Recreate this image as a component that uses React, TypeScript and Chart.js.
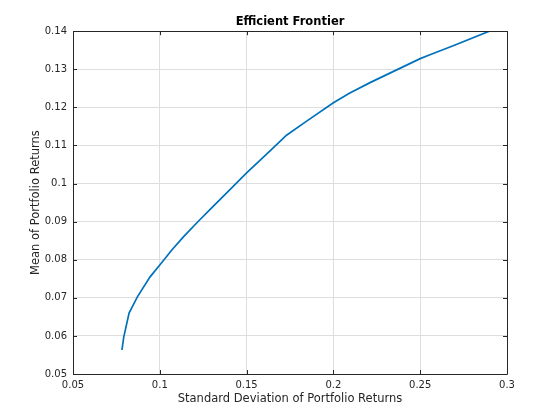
import React, { useEffect, useRef } from "react";
import { Chart, registerables } from "chart.js";
Chart.register(...registerables);

const stdDev = [0.0782, 0.0792, 0.0823, 0.0870, 0.0944, 0.1000, 0.1068, 0.1136, 0.1222, 0.1300, 0.1404, 0.1500, 0.1577, 0.1673, 0.1730, 0.1846, 0.2000, 0.2092, 0.2211, 0.2500, 0.2556, 0.2690, 0.2898];
const meanRet = [0.0563, 0.0596, 0.0660, 0.0702, 0.0755, 0.0786, 0.0825, 0.0860, 0.0901, 0.0937, 0.0984, 0.1028, 0.1061, 0.1102, 0.1127, 0.1164, 0.1212, 0.1237, 0.1265, 0.1328, 0.1338, 0.1362, 0.1400];

const xTickValues = [0.05, 0.1, 0.15, 0.2, 0.25, 0.3];
const yTickValues = [0.05, 0.06, 0.07, 0.08, 0.09, 0.1, 0.11, 0.12, 0.13, 0.14];

const titleText = "Efficient Frontier";
const xLabel = "Standard Deviation of Portfolio Returns";
const yLabel = "Mean of Portfolio Returns";

const FONT = "'DejaVu Sans', sans-serif";
const AXIS_COLOR = "#262626";

const fmt = (v: number) => String(Number(v.toFixed(4)));

const boxPlugin = {
  id: "matlabBox",
  afterDraw(chart: any) {
    const { ctx, chartArea: a } = chart;
    const xs = chart.scales.x;
    const ys = chart.scales.y;
    const tl = 4;
    ctx.save();
    ctx.strokeStyle = AXIS_COLOR;
    ctx.lineWidth = 1;
    ctx.beginPath();
    for (const v of xTickValues) {
      const px = Math.round(xs.getPixelForValue(v)) + 0.5;
      ctx.moveTo(px, a.bottom);
      ctx.lineTo(px, a.bottom - tl);
      ctx.moveTo(px, a.top);
      ctx.lineTo(px, a.top + tl);
    }
    for (const v of yTickValues) {
      const py = Math.round(ys.getPixelForValue(v)) + 0.5;
      ctx.moveTo(a.left, py);
      ctx.lineTo(a.left + tl, py);
      ctx.moveTo(a.right, py);
      ctx.lineTo(a.right - tl, py);
    }
    ctx.stroke();
    ctx.beginPath();
    ctx.rect(Math.round(a.left) + 0.5, Math.round(a.top) + 0.5, Math.round(a.right - a.left), Math.round(a.bottom - a.top));
    ctx.stroke();
    ctx.restore();
  },
};

export default function App() {
  const ref = useRef<HTMLCanvasElement | null>(null);
  useEffect(() => {
    if (!ref.current) return;
    const points = stdDev.map((x, i) => ({ x, y: meanRet[i] }));
    const chart = new Chart(ref.current, {
      type: "line",
      data: {
        datasets: [
          {
            data: points,
            borderColor: "#0072BD",
            borderWidth: 1.7,
            pointRadius: 0,
            fill: false,
            tension: 0,
            yAxisID: "y",
          },
        ],
      },
      options: {
        animation: false,
        responsive: false,
        events: [],
        layout: { padding: { left: 20, right: 0, top: 0, bottom: 0 } },
        plugins: {
          legend: { display: false },
          tooltip: { enabled: false },
          title: {
            display: true,
            text: titleText,
            color: "#000000",
            font: { family: FONT, size: 11.5, weight: "bold", lineHeight: 1.2 },
            padding: { top: 15, bottom: 2.4 },
          },
        },
        scales: {
          x: {
            type: "linear",
            min: 0.05,
            max: 0.3,
            afterBuildTicks: (s: any) => {
              s.ticks = xTickValues.map((v) => ({ value: v }));
            },
            afterFit: (s: any) => {
              s.height = 46;
            },
            grid: { color: "#dedede", drawTicks: false, lineWidth: 1 },
            border: { display: false },
            ticks: {
              color: AXIS_COLOR,
              font: { family: FONT, size: 10 },
              padding: 5,
              maxRotation: 0,
              autoSkip: false,
              callback: (v: any) => fmt(Number(v)),
            },
            title: {
              display: true,
              text: xLabel,
              color: AXIS_COLOR,
              font: { family: FONT, size: 11.5, lineHeight: 1.2 },
              padding: { top: 0, bottom: 14 },
            },
          },
          y: {
            type: "linear",
            position: "left",
            min: 0.05,
            max: 0.14,
            afterBuildTicks: (s: any) => {
              s.ticks = yTickValues.map((v) => ({ value: v }));
            },
            afterFit: (s: any) => {
              s.width = 53;
            },
            grid: { color: "#dedede", drawTicks: false, lineWidth: 1 },
            border: { display: false },
            ticks: {
              color: AXIS_COLOR,
              font: { family: FONT, size: 10 },
              padding: 6,
              autoSkip: false,
              callback: (v: any) => fmt(Number(v)),
            },
            title: {
              display: true,
              text: yLabel,
              color: AXIS_COLOR,
              font: { family: FONT, size: 11.5, lineHeight: 1.2 },
              padding: { top: 9, bottom: 0 },
            },
          },
          yRight: {
            type: "linear",
            position: "right",
            min: 0.05,
            max: 0.14,
            afterFit: (s: any) => {
              s.width = 53;
            },
            grid: { display: false, drawTicks: false },
            border: { display: false },
            ticks: { display: false },
          },
        },
      },
      plugins: [boxPlugin],
    });
    return () => chart.destroy();
  }, []);
  return (
    <div style={{ position: "absolute", left: 0, top: 0, width: 560, height: 420, background: "#ffffff" }}>
      <canvas ref={ref} width={560} height={420} style={{ width: 560, height: 420, display: "block" }} />
    </div>
  );
}
